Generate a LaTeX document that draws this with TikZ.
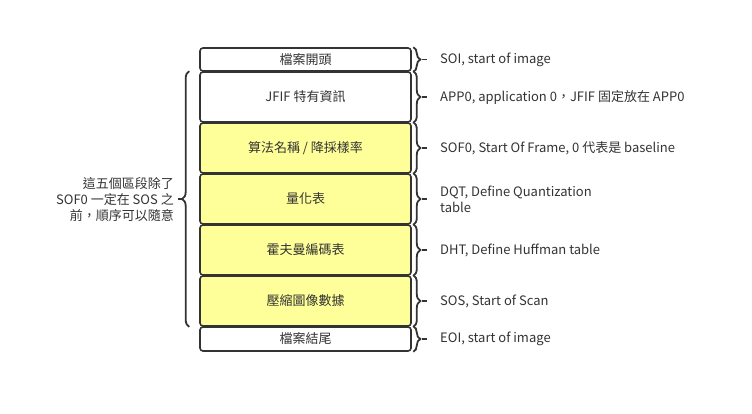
\documentclass[tikz,border=0pt]{standalone}
\usepackage{fontspec}
\setmainfont{Noto Sans CJK TC}
\usetikzlibrary{decorations.pathreplacing}
\definecolor{ink}{HTML}{333333}
\definecolor{yel}{HTML}{FFFF99}
\begin{document}
\begin{tikzpicture}[x=1pt,y=-1pt,
  seg/.style={draw=ink,line width=1.6pt,rounded corners=3pt,minimum width=211pt,inner sep=0pt,font=\fontsize{13}{15}\selectfont,text=ink},
  yseg/.style={seg,fill=yel},
  wseg/.style={seg,fill=white},
  brc/.style={draw=ink,line width=1.8pt,decorate,decoration={brace,amplitude=7pt,raise=1.5pt}},
  lbl/.style={anchor=west,font=\fontsize{13}{16}\selectfont,text=ink,inner sep=0pt,align=left}]
\useasboundingbox (0,0) rectangle (752,413);
\node[wseg,minimum height=23pt] (b1) at (305.5,59.5) {檔案開頭};
\node[wseg,minimum height=50pt] (b2) at (305.5,97) {JFIF 特有資訊};
\node[yseg,minimum height=50pt] (b3) at (305.5,148) {算法名稱 / 降採樣率};
\node[yseg,minimum height=50pt] (b4) at (305.5,199) {量化表};
\node[yseg,minimum height=50pt] (b5) at (305.5,250) {霍夫曼編碼表};
\node[yseg,minimum height=50pt] (b6) at (305.5,301) {壓縮圖像數據};
\node[wseg,minimum height=24pt] (b7) at (305.5,339) {檔案結尾};
% right braces
\foreach \b in {b1,b2,b3,b4,b5,b6,b7}{
  \draw[brc] (\b.north east) -- (\b.south east);
  \draw[ink,line width=1.8pt] ([xshift=10pt]\b.east) -- ([xshift=15pt]\b.east);
}
\node[lbl] (t1) at (440,59.5) {SOI, start of image};
\node[lbl] (t2) at (440,97) {APP0, application 0，JFIF 固定放在 APP0};
\node[lbl] (t3) at (440,148) {SOF0, Start Of Frame, 0 代表是 baseline};
\node[lbl] (t4) at (440,199) {DQT, Define Quantization\\table};
\node[lbl] (t5) at (440,250) {DHT, Define Huffman table};
\node[lbl] (t6) at (440,301) {SOS, Start of Scan};
\node[lbl] (t7) at (440,339) {EOI, start of image};
% left brace
\coordinate (lb) at ([xshift=-10pt]b6.south west);
\coordinate (lt) at ([xshift=-10pt]b2.north west);
\draw[brc,decoration={brace,amplitude=7pt,raise=0pt}] (lb) -- (lt);
\coordinate (ltip) at (183,199);
\draw[ink,line width=1.8pt] (ltip) -- ++(-5,0);
\node[lbl,anchor=east,align=right] (tl) at (174,199) {這五個區段除了\\SOF0 一定在 SOS 之\\前，順序可以隨意};
\end{tikzpicture}
\end{document}
